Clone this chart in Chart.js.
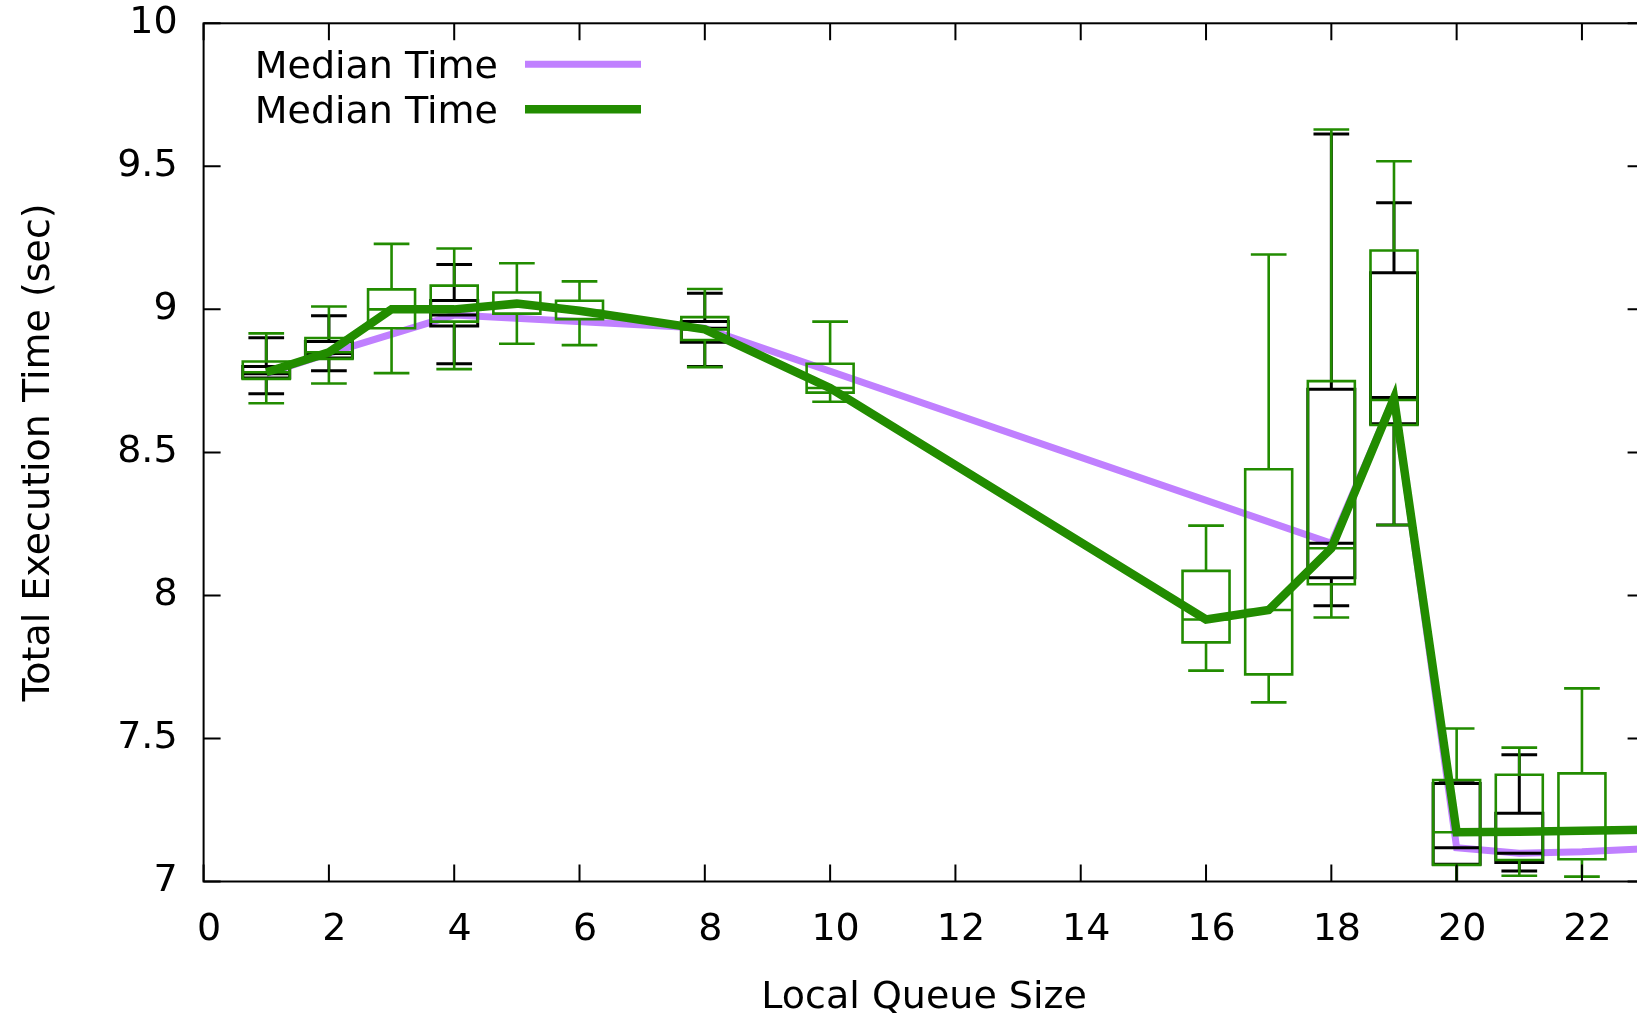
<!DOCTYPE html>
<html lang="en">
<head>
<meta charset="UTF-8">
<title>Total Execution Time vs Local Queue Size</title>
<script src="https://cdn.jsdelivr.net/npm/chart.js@4"></script>
<style>
  html, body { margin: 0; padding: 0; background: #fff; overflow: hidden; }
  #wrap { width: 1660px; height: 1015px; }
</style>
</head>
<body>
<div id="wrap"><canvas id="chart" width="1660" height="1015"></canvas></div>
<script>
// Values
const xTicks = [0, 2, 4, 6, 8, 10, 12, 14, 16, 18, 20, 22];
const yTicks = [7, 7.5, 8, 8.5, 9, 9.5, 10];

// first run (black candlesticks, purple median line)
const blackX   = [1, 2, 4, 8, 18, 19, 20, 21];
const blackMin = [8.705, 8.785, 8.810, 8.800, 7.964, 8.246, 6.980, 7.037];
const blackQ1  = [8.760, 8.830, 8.942, 8.885, 8.062, 8.600, 7.060, 7.066];
const blackMed = [8.775, 8.846, 8.980, 8.934, 8.182, 8.692, 7.118, 7.099];
const blackQ3  = [8.800, 8.888, 9.031, 8.958, 8.721, 9.128, 7.343, 7.239];
const blackMax = [8.901, 8.978, 9.157, 9.056, 9.613, 9.373, 7.345, 7.443];

const purpleX = [1, 2, 4, 8, 18, 19, 20, 21, 22, 24];
const purpleY = [8.775, 8.846, 8.980, 8.934, 8.182, 8.692, 7.118, 7.099, 7.104, 7.125];

// second run (green candlesticks, green median line)
const greenX   = [1, 2, 3, 4, 5, 6, 8, 10, 16, 17, 18, 19, 20, 21, 22];
const greenMin = [8.672, 8.741, 8.777, 8.791, 8.880, 8.875, 8.798, 8.677, 7.737, 7.626, 7.923, 8.246, 6.980, 7.020, 7.017];
const greenQ1  = [8.757, 8.827, 8.934, 8.957, 8.985, 8.966, 8.893, 8.709, 7.836, 7.724, 8.039, 8.596, 7.058, 7.075, 7.078];
const greenMed = [8.780, 8.850, 9.000, 9.000, 9.020, 8.995, 8.930, 8.725, 7.916, 7.949, 8.165, 8.683, 7.172, 7.174, 7.177];
const greenQ3  = [8.818, 8.900, 9.070, 9.083, 9.059, 9.030, 8.973, 8.810, 8.086, 8.441, 8.749, 9.206, 7.355, 7.373, 7.378];
const greenMax = [8.916, 9.010, 9.229, 9.213, 9.161, 9.098, 9.071, 8.957, 8.244, 9.192, 9.629, 9.518, 7.535, 7.468, 7.675];

const greenLineX = [1, 2, 3, 4, 5, 6, 8, 10, 16, 17, 18, 19, 20, 21, 22, 24];
const greenLineY = [8.780, 8.850, 9.000, 9.000, 9.020, 8.995, 8.930, 8.725, 7.916, 7.949, 8.165, 8.690, 7.172, 7.174, 7.177, 7.185];

const FONT = "'DejaVu Sans', sans-serif";
const PURPLE = 'rgb(192,128,255)';
const GREEN = 'rgb(34,140,0)';
const BOX_W = 0.75;
const BAR_W = 0.57;

const candleSets = [
  { x: blackX, min: blackMin, q1: blackQ1, med: blackMed, q3: blackQ3, max: blackMax, color: '#000', width: 3 },
  { x: greenX, min: greenMin, q1: greenQ1, med: greenMed, q3: greenQ3, max: greenMax, color: GREEN, width: 2.6 }
];

function drawCandles(chart, c) {
  const { ctx, chartArea: a } = chart;
  const sx = chart.scales.x, sy = chart.scales.y;
  ctx.save();
  ctx.beginPath();
  ctx.rect(a.left, a.top, a.right - a.left, a.bottom - a.top);
  ctx.clip();
  ctx.strokeStyle = c.color;
  ctx.lineWidth = c.width;
  c.x.forEach((x, i) => {
    const xl = sx.getPixelForValue(x - BOX_W / 2), xr = sx.getPixelForValue(x + BOX_W / 2);
    const bl = sx.getPixelForValue(x - BAR_W / 2), br = sx.getPixelForValue(x + BAR_W / 2);
    const xm = sx.getPixelForValue(x);
    const yMin = sy.getPixelForValue(c.min[i]), yQ1 = sy.getPixelForValue(c.q1[i]);
    const yMed = sy.getPixelForValue(c.med[i]), yQ3 = sy.getPixelForValue(c.q3[i]);
    const yMax = sy.getPixelForValue(c.max[i]);
    ctx.beginPath();
    ctx.rect(xl, yQ3, xr - xl, yQ1 - yQ3);
    ctx.moveTo(xl, yMed); ctx.lineTo(xr, yMed);
    ctx.moveTo(xm, yQ3); ctx.lineTo(xm, yMax);
    ctx.moveTo(xm, yQ1); ctx.lineTo(xm, yMin);
    ctx.moveTo(bl, yMax); ctx.lineTo(br, yMax);
    ctx.moveTo(bl, yMin); ctx.lineTo(br, yMin);
    ctx.stroke();
  });
  ctx.restore();
}

// candlesticks go between the purple line (drawn first) and the green line
const candlePlugin = {
  id: 'candles',
  afterDatasetDraw(chart, args) {
    if (args.index === 0) candleSets.forEach(c => drawCandles(chart, c));
  }
};

// gnuplot style frame with inward ticks on all four sides
const framePlugin = {
  id: 'frame',
  afterDatasetsDraw(chart) {
    const { ctx, chartArea: a } = chart;
    const sx = chart.scales.x, sy = chart.scales.y;
    const tl = 17;
    ctx.save();
    ctx.strokeStyle = '#000';
    ctx.lineWidth = 2;
    ctx.beginPath();
    xTicks.forEach(v => {
      const p = sx.getPixelForValue(v);
      ctx.moveTo(p, a.bottom); ctx.lineTo(p, a.bottom - tl);
      ctx.moveTo(p, a.top); ctx.lineTo(p, a.top + tl);
    });
    yTicks.forEach(v => {
      const p = sy.getPixelForValue(v);
      ctx.moveTo(a.left, p); ctx.lineTo(a.left + tl, p);
      ctx.moveTo(a.right, p); ctx.lineTo(a.right - tl, p);
    });
    ctx.stroke();
    ctx.strokeRect(a.left, a.top, a.right - a.left, a.bottom - a.top);
    ctx.restore();
  }
};

// legend inside the plot, text on the left, sample line on the right
const legendPlugin = {
  id: 'keybox',
  afterDraw(chart) {
    const { ctx } = chart;
    const rows = [64.3, 109.2];
    ctx.save();
    ctx.font = '38px ' + FONT;
    ctx.fillStyle = '#000';
    ctx.textAlign = 'right';
    ctx.textBaseline = 'alphabetic';
    chart.data.datasets.forEach((ds, i) => {
      const y = rows[i];
      ctx.fillText(ds.label, 498, y + 13.5);
      ctx.strokeStyle = ds.borderColor;
      ctx.lineWidth = ds.borderWidth;
      ctx.beginPath();
      ctx.moveTo(525, y);
      ctx.lineTo(641, y);
      ctx.stroke();
    });
    ctx.restore();
  }
};

function noOverhang(s) {
  s.paddingTop = 0;
  s.paddingBottom = 0;
  s.paddingLeft = 0;
  s.paddingRight = 0;
}

const chart = new Chart(document.getElementById('chart'), {
  type: 'scatter',
  data: {
    datasets: [
      {
        label: 'Median Time',
        data: purpleX.map((x, i) => ({ x: x, y: purpleY[i] })),
        showLine: true,
        borderColor: PURPLE,
        backgroundColor: PURPLE,
        borderWidth: 7,
        pointRadius: 0,
        order: 2,
        clip: 0
      },
      {
        label: 'Median Time',
        data: greenLineX.map((x, i) => ({ x: x, y: greenLineY[i] })),
        showLine: true,
        borderColor: GREEN,
        backgroundColor: GREEN,
        borderWidth: 8.5,
        pointRadius: 0,
        order: 1,
        clip: 0
      }
    ]
  },
  options: {
    responsive: false,
    animation: false,
    layout: { padding: { left: 0, right: 15.4, top: 23.3, bottom: 0 } },
    plugins: {
      legend: { display: false },
      tooltip: { enabled: false }
    },
    scales: {
      x: {
        type: 'linear',
        min: 0,
        max: 23,
        afterBuildTicks: s => { s.ticks = xTicks.map(v => ({ value: v })); },
        afterFit: s => { s.height = 133.5; noOverhang(s); },
        grid: { display: false, drawTicks: false },
        border: { display: false },
        ticks: {
          font: { family: FONT, size: 38 },
          color: '#000',
          padding: 26,
          labelOffset: 5.5,
          maxRotation: 0,
          autoSkip: false,
          callback: v => String(v)
        },
        title: {
          display: true,
          text: 'Local Queue Size',
          font: { family: FONT, size: 38, lineHeight: 0.9 },
          color: '#000',
          padding: { top: 0, bottom: 0 }
        }
      },
      y: {
        type: 'linear',
        min: 7,
        max: 10,
        afterBuildTicks: s => { s.ticks = yTicks.map(v => ({ value: v })); },
        afterFit: s => { s.width = 203.6; noOverhang(s); },
        grid: { display: false, drawTicks: false },
        border: { display: false },
        ticks: {
          font: { family: FONT, size: 38 },
          color: '#000',
          padding: 26,
          autoSkip: false,
          callback: v => String(v)
        },
        title: {
          display: true,
          text: 'Total Execution Time (sec)',
          font: { family: FONT, size: 38, lineHeight: 1 },
          color: '#000',
          padding: { top: 20.5, bottom: 0 }
        }
      }
    }
  },
  plugins: [candlePlugin, framePlugin, legendPlugin]
});
</script>
</body>
</html>
